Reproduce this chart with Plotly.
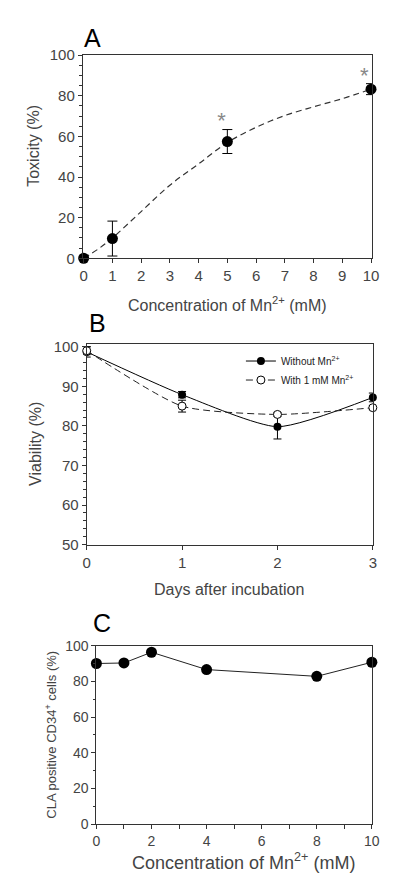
import plotly.graph_objects as go

W, H = 400, 883

# ---------- Panel A data ----------
a_conc = [0, 1, 5, 10]
a_tox = [0, 9.7, 57.5, 83.3]
a_err = [0, 8.6, 5.9, 2.7]
a_fit_x = [0, 0.5, 1, 2, 3, 4, 5, 6, 7, 8, 9, 10]
a_fit_y = [0, 4.5, 10, 23, 36, 46.5, 57, 64.5, 70.3, 74.6, 78.6, 83.3]
a_star_x = [4.8, 9.77]
a_star_y = [67, 88.8]

# ---------- Panel B data ----------
b_days = [0, 1, 2, 3]
b_without = [98.7, 87.9, 79.8, 87.2]
b_without_err = [1.3, 0.8, 3.1, 1.1]
b_with = [99.0, 85.0, 82.9, 84.6]
b_with_err = [1.0, 1.5, 0.5, 0.5]

# ---------- Panel C data ----------
c_conc = [0, 1, 2, 4, 8, 10]
c_cla = [90.0, 90.3, 96.3, 86.6, 82.8, 90.7]


def px(x):
    return x / W


def py(y):
    return 1 - y / H


FONT = "Liberation Sans, Arial, sans-serif"
AXC = "#333333"
TXC = "#444444"

fig = go.Figure()

# Panel A
fig.add_trace(go.Scatter(x=a_fit_x, y=a_fit_y, mode="lines", line=dict(color="#333", width=1.2, dash="6px,4px", shape="spline"),
                         xaxis="x", yaxis="y", showlegend=False, hoverinfo="skip"))
fig.add_trace(go.Scatter(x=a_conc, y=a_tox, mode="markers", marker=dict(color="black", size=11),
                         error_y=dict(type="data", array=a_err, color="black", thickness=1, width=5),
                         xaxis="x", yaxis="y", showlegend=False, cliponaxis=False))
fig.add_trace(go.Scatter(x=a_star_x, y=a_star_y, mode="text", text=["*", "*"],
                         textfont=dict(size=22, color="#888888", family=FONT),
                         xaxis="x", yaxis="y", showlegend=False, cliponaxis=False))

# Panel B
fig.add_trace(go.Scatter(x=b_days, y=b_without, mode="lines+markers", name="Without Mn<sup>2+</sup>",
                         line=dict(color="black", width=1, shape="spline", smoothing=0.6),
                         marker=dict(color="black", size=8),
                         error_y=dict(type="data", array=b_without_err, color="black", thickness=1, width=4),
                         xaxis="x2", yaxis="y2", cliponaxis=False))
fig.add_trace(go.Scatter(x=b_days, y=b_with, mode="lines+markers", name="With 1 mM Mn<sup>2+</sup>",
                         line=dict(color="#222", width=1, dash="7px,4px", shape="spline", smoothing=0.6),
                         marker=dict(color="white", size=8, line=dict(color="black", width=1)),
                         error_y=dict(type="data", array=b_with_err, color="black", thickness=1, width=4),
                         xaxis="x2", yaxis="y2", cliponaxis=False))

# Panel C
fig.add_trace(go.Scatter(x=c_conc, y=c_cla, mode="lines+markers", line=dict(color="#222", width=1),
                         marker=dict(color="black", size=11),
                         xaxis="x3", yaxis="y3", showlegend=False, cliponaxis=False))


def axis(domain, rng, dtick, minor_dtick, anchor, size=15, minor_len=2.5):
    return dict(domain=domain, range=rng, dtick=dtick, tick0=0, anchor=anchor,
                showline=True, linecolor=AXC, linewidth=1, mirror=True,
                ticks="outside", ticklen=4, tickcolor=AXC, tickwidth=1,
                showgrid=False, zeroline=False, fixedrange=True,
                tickfont=dict(family=FONT, size=size, color=TXC),
                minor=dict(ticks="outside", ticklen=minor_len, dtick=minor_dtick, tick0=0, tickcolor=AXC, showgrid=False))


annotations = []


def ann(text, x, y, size, angle=0, color=TXC, xanchor="center"):
    annotations.append(dict(text=text, x=px(x), y=py(y), xref="paper", yref="paper", showarrow=False,
                            textangle=angle, xanchor=xanchor, yanchor="middle",
                            font=dict(family=FONT, size=size, color=color)))


ann("Concentration of Mn<sup>2+</sup> (mM)", 222, 293, 16)
ann("Toxicity (%)", 22, 131, 16, angle=-90)
ann("Days after incubation", 224, 584, 16)
ann("Viability (%)", 24, 435, 16, angle=-90)
ann("Concentration of Mn<sup>2+</sup> (mM)", 239, 861, 18)
ann("CLA positive CD34<sup>+</sup> cells (%)", 40, 732, 13, angle=-90)
ann("A", 72, 21, 25, color="black", xanchor="left")
ann("B", 77, 312, 25, color="black", xanchor="left")
ann("C", 81, 618, 25, color="black", xanchor="left")

fig.update_layout(
    width=W, height=H, margin=dict(l=0, r=0, t=0, b=0),
    paper_bgcolor="white", plot_bgcolor="white",
    font=dict(family=FONT, color=TXC),
    xaxis=axis([px(73), px(371)], [-0.03, 10.03], 1, 1, "y"),
    yaxis=axis([py(246), py(39)], [0, 100], 20, 5, "x"),
    xaxis2=axis([px(77), px(372)], [0, 3], 1, 1, "y2"),
    yaxis2=axis([py(538), py(333)], [50, 100.8], 10, 2, "x2"),
    xaxis3=axis([px(87), px(371)], [0, 10], 2, 1, "y3", size=14, minor_len=4),
    yaxis3=axis([py(823), py(641)], [0, 100], 20, 10, "x3", size=14),
    legend=dict(x=px(236), y=py(336), xanchor="left", yanchor="top", bgcolor="rgba(0,0,0,0)",
                font=dict(family=FONT, size=10, color="#222"), tracegroupgap=0, itemwidth=30),
    annotations=annotations,
    showlegend=True,
)

fig.write_html("out.html")
